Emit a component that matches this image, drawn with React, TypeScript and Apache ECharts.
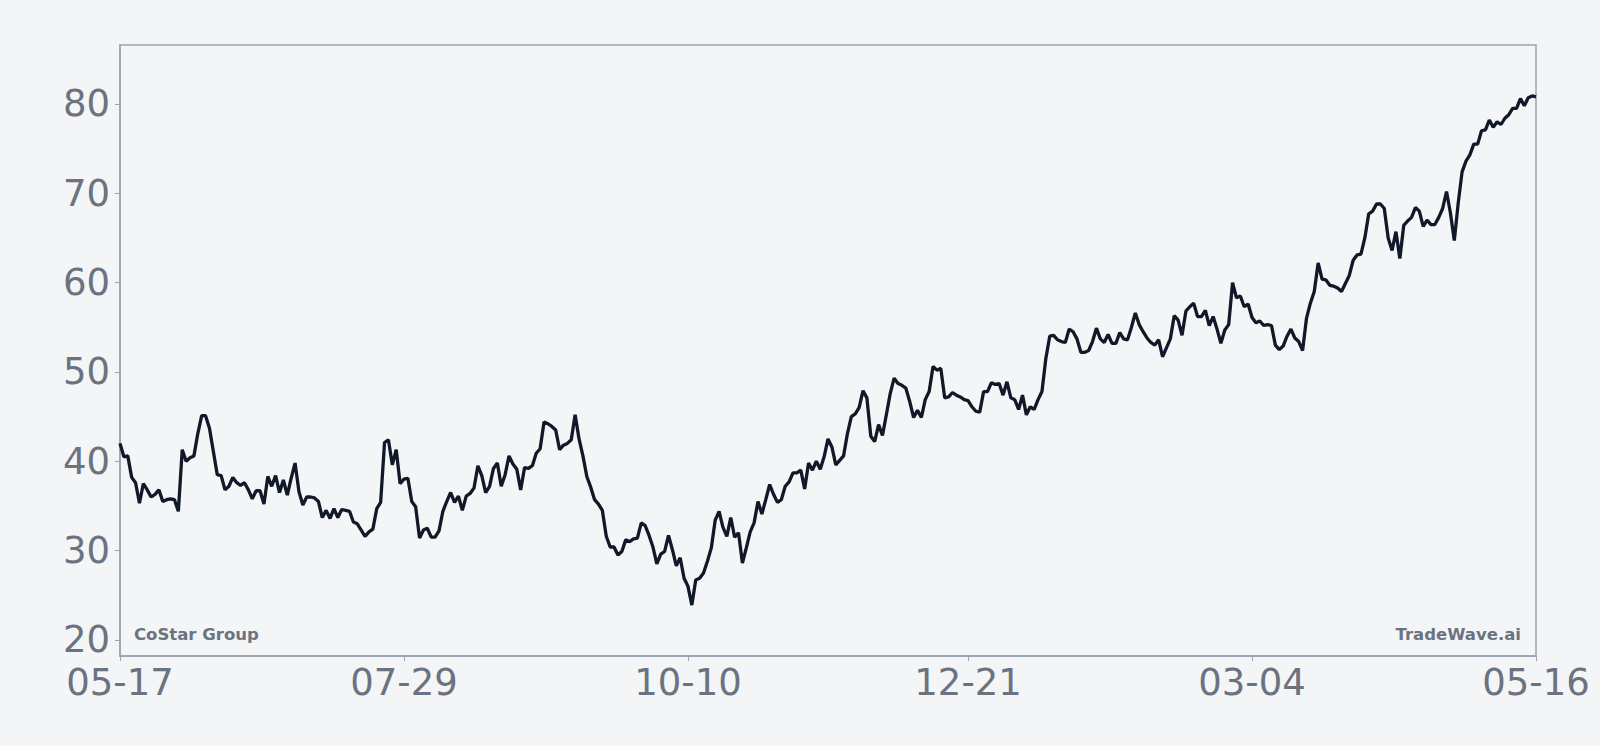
import React, { useEffect, useRef } from "react";
import * as echarts from "echarts";

// ---- Data ----
const START_DATE = "2024-05-17";
const X_TICK_LABELS = ["05-17", "07-29", "10-10", "12-21", "03-04", "05-16"];
const Y_TICKS = [20, 30, 40, 50, 60, 70, 80];
const Y_MIN = 18.2;
const Y_MAX = 86.6;
const LEFT_NOTE = "CoStar Group";
const RIGHT_NOTE = "TradeWave.ai";

const PRICES: number[] = [
  42.0, 40.5, 40.6, 38.2, 37.6, 35.3, 37.5, 36.8, 36.0, 36.3,
  36.8, 35.5, 35.7, 35.8, 35.7, 34.4, 41.3, 40.0, 40.4, 40.6,
  43.1, 45.1, 45.1, 43.7, 41.1, 38.5, 38.4, 36.8, 37.2, 38.2,
  37.6, 37.3, 37.6, 36.8, 35.8, 36.7, 36.7, 35.2, 38.3, 37.2,
  38.4, 36.5, 37.9, 36.2, 38.1, 39.8, 36.6, 35.1, 36.0, 36.0,
  35.9, 35.5, 33.7, 34.5, 33.6, 34.7, 33.7, 34.6, 34.5, 34.4,
  33.2, 33.0, 32.3, 31.6, 32.1, 32.4, 34.7, 35.4, 42.1, 42.4,
  39.6, 41.3, 37.5, 38.0, 38.1, 35.5, 34.9, 31.4, 32.3, 32.5,
  31.5, 31.5, 32.2, 34.4, 35.5, 36.5, 35.4, 36.1, 34.5, 36.1,
  36.4, 37.0, 39.5, 38.4, 36.5, 37.2, 39.2, 39.8, 37.2, 38.5,
  40.6, 39.7, 39.1, 36.8, 39.3, 39.2, 39.5, 40.9, 41.4, 44.4,
  44.2, 43.9, 43.5, 41.3, 41.8, 42.0, 42.4, 45.2, 42.5, 40.6,
  38.3, 37.1, 35.7, 35.2, 34.5, 31.6, 30.4, 30.4, 29.5, 29.9,
  31.2, 31.0, 31.3, 31.4, 33.1, 32.8, 31.7, 30.4, 28.5, 29.6,
  29.9, 31.7, 30.1, 28.3, 29.2, 26.9, 26.0, 23.9, 26.7, 26.9,
  27.5, 28.8, 30.3, 33.4, 34.4, 32.6, 31.6, 33.7, 31.5, 32.0,
  28.6, 30.3, 32.1, 33.1, 35.5, 34.1, 35.7, 37.4, 36.3, 35.4,
  35.7, 37.2, 37.7, 38.7, 38.7, 39.0, 36.9, 39.8, 39.0, 40.0,
  39.1, 40.5, 42.5, 41.6, 39.6, 40.1, 40.6, 43.1, 45.0, 45.3,
  46.0, 47.9, 47.1, 42.8, 42.2, 44.1, 42.9, 45.2, 47.6, 49.3,
  48.7, 48.5, 48.2, 46.7, 44.9, 45.7, 44.9, 46.9, 47.8, 50.6,
  50.2, 50.4, 47.1, 47.2, 47.7, 47.4, 47.2, 46.9, 46.8, 46.1,
  45.6, 45.5, 47.8, 47.8, 48.8, 48.6, 48.7, 47.4, 48.9, 47.1,
  46.9, 45.8, 47.4, 45.2, 46.1, 45.8, 46.9, 47.8, 51.5, 54.0,
  54.1, 53.6, 53.4, 53.3, 54.8, 54.5, 53.7, 52.2, 52.2, 52.4,
  53.4, 54.9, 53.7, 53.3, 54.2, 53.2, 53.2, 54.4, 53.7, 53.6,
  55.0, 56.6, 55.3, 54.5, 53.8, 53.3, 53.0, 53.6, 51.7, 52.7,
  53.7, 56.3, 55.8, 54.1, 56.8, 57.3, 57.7, 56.2, 56.2, 56.9,
  55.2, 56.2, 54.8, 53.2, 54.7, 55.3, 60.0, 58.3, 58.5, 57.3,
  57.6, 56.1, 55.5, 55.7, 55.2, 55.3, 55.2, 53.0, 52.5, 52.9,
  54.0, 54.8, 53.8, 53.4, 52.4, 56.0, 57.7, 59.0, 62.2, 60.4,
  60.3, 59.7, 59.6, 59.4, 59.0, 59.9, 60.8, 62.5, 63.1, 63.2,
  65.0, 67.7, 68.0, 68.8, 68.8, 68.3, 65.0, 63.6, 65.7, 62.7,
  66.4, 66.9, 67.3, 68.4, 68.0, 66.3, 67.0, 66.5, 66.5, 67.3,
  68.3, 70.2, 67.8, 64.7, 68.9, 72.4, 73.6, 74.3, 75.5, 75.5,
  77.0, 77.1, 78.2, 77.4, 78.0, 77.7, 78.4, 78.8, 79.5, 79.5,
  80.6, 79.8, 80.7, 80.9, 80.8,
];

function buildDates(count: number): string[] {
  const [y, m, d] = START_DATE.split("-").map(Number);
  const out: string[] = [];
  for (let i = 0; i < count; i++) {
    const dt = new Date(Date.UTC(y, m - 1, d + i));
    const mm = String(dt.getUTCMonth() + 1).padStart(2, "0");
    const dd = String(dt.getUTCDate()).padStart(2, "0");
    out.push(`${mm}-${dd}`);
  }
  return out;
}

const DATES = buildDates(PRICES.length);

const FONT = "DejaVu Sans";
const LABEL_COLOR = "#6b7280";
const AXIS_COLOR = "#9ca3af";
const BG = "#f4f5f7";

export default function App() {
  const ref = useRef<HTMLDivElement>(null);

  useEffect(() => {
    document.body.style.margin = "0";
    if (!ref.current) return;
    const chart = echarts.init(ref.current, undefined, { renderer: "svg" });
    const showTick = (_idx: number, val: string) => X_TICK_LABELS.includes(val);
    chart.setOption({
      animation: false,
      backgroundColor: BG,
      grid: {
        left: 120,
        right: 64,
        top: 45,
        bottom: 90,
        show: true,
        borderColor: AXIS_COLOR,
        borderWidth: 1.5,
        backgroundColor: "transparent",
      },
      xAxis: {
        type: "category",
        data: DATES,
        boundaryGap: false,
        axisLine: { show: true, lineStyle: { color: AXIS_COLOR, width: 1.5 } },
        axisTick: {
          show: true,
          interval: showTick,
          length: 5,
          lineStyle: { color: AXIS_COLOR, width: 1 },
        },
        axisLabel: {
          interval: showTick,
          color: LABEL_COLOR,
          fontFamily: FONT,
          fontSize: 37,
          margin: 8,
          showMinLabel: true,
          showMaxLabel: true,
        },
        splitLine: { show: false },
      },
      yAxis: {
        type: "value",
        min: Y_MIN,
        max: Y_MAX,
        axisLine: { show: true, lineStyle: { color: AXIS_COLOR, width: 1.5 } },
        axisTick: {
          show: true,
          length: 5,
          customValues: Y_TICKS,
          lineStyle: { color: AXIS_COLOR, width: 1 },
        },
        axisLabel: {
          customValues: Y_TICKS,
          color: LABEL_COLOR,
          fontFamily: FONT,
          fontSize: 37,
          margin: 10,
        },
        splitLine: { show: false },
      },
      series: [
        {
          type: "line",
          data: PRICES,
          showSymbol: false,
          symbol: "none",
          lineStyle: { color: "#111827", width: 3.3 },
          itemStyle: { color: "#111827" },
        },
      ],
      graphic: [
        {
          type: "text",
          left: 134,
          top: 626,
          style: {
            text: LEFT_NOTE,
            fill: LABEL_COLOR,
            font: `bold 16.5px "${FONT}"`,
          },
        },
        {
          type: "text",
          right: 1600 - 1521,
          top: 626,
          style: {
            text: RIGHT_NOTE,
            fill: LABEL_COLOR,
            font: `bold 16.5px "${FONT}"`,
          },
        },
      ],
    });
    return () => chart.dispose();
  }, []);

  return <div ref={ref} style={{ width: 1600, height: 746 }} />;
}
